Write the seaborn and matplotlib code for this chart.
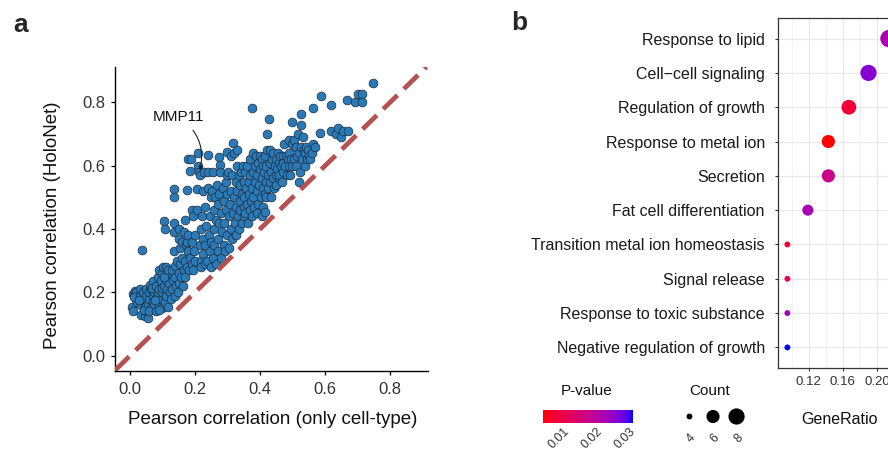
import numpy as np
import pandas as pd
import matplotlib
matplotlib.use("Agg")
import matplotlib.pyplot as plt
import seaborn as sns
from matplotlib.colors import LinearSegmentedColormap, Normalize

# ---- panel a: Pearson correlation per gene ----
only_celltype = [
    0.005, 0.008, 0.010, 0.015, 0.020, 0.020, 0.022, 0.012,
    0.030, 0.030, 0.035, 0.035, 0.036, 0.040, 0.040, 0.045, 0.045, 0.048, 0.050, 0.050, 0.028, 0.042,
    0.055, 0.055, 0.060, 0.060, 0.062, 0.065, 0.065, 0.070, 0.070, 0.072, 0.075, 0.075, 0.058, 0.068,
    0.080, 0.080, 0.082, 0.085, 0.085, 0.090, 0.090, 0.090, 0.095, 0.095, 0.100, 0.100, 0.100, 0.078, 0.088, 0.098,
    0.102, 0.105, 0.105, 0.108, 0.109, 0.110, 0.110, 0.112, 0.115, 0.118, 0.120, 0.120, 0.122, 0.125, 0.106, 0.116,
    0.128, 0.130, 0.132, 0.135, 0.135, 0.135, 0.135, 0.135, 0.138, 0.140, 0.140, 0.142, 0.145, 0.148, 0.150, 0.150, 0.150,
    0.152, 0.155, 0.155, 0.158, 0.160, 0.160, 0.162, 0.165, 0.165, 0.168, 0.170, 0.170, 0.172, 0.174, 0.175, 0.175,
    0.178, 0.180, 0.180, 0.182, 0.185, 0.185, 0.188, 0.190, 0.190, 0.192, 0.195, 0.195, 0.198, 0.200, 0.200,
    0.205, 0.207, 0.210, 0.210, 0.212, 0.215, 0.215, 0.218, 0.220, 0.220, 0.222, 0.225, 0.225, 0.225,
    0.228, 0.230, 0.230, 0.232, 0.235, 0.238, 0.240, 0.240, 0.240, 0.242, 0.245, 0.245, 0.248, 0.250, 0.250,
    0.252, 0.255, 0.255, 0.258, 0.260, 0.260, 0.262, 0.265, 0.265, 0.268, 0.270, 0.270, 0.272, 0.275, 0.275, 0.275,
    0.277, 0.278, 0.280, 0.280, 0.282, 0.285, 0.288, 0.290, 0.290, 0.292, 0.295, 0.295, 0.298, 0.300, 0.300, 0.300,
    0.302, 0.305, 0.305, 0.308, 0.310, 0.310, 0.312, 0.315, 0.315, 0.318, 0.318, 0.320, 0.320, 0.322, 0.325, 0.325, 0.325,
    0.328, 0.330, 0.330, 0.332, 0.335, 0.335, 0.338, 0.340, 0.340, 0.342, 0.345, 0.345, 0.348, 0.350, 0.350, 0.350,
    0.352, 0.355, 0.355, 0.358, 0.360, 0.360, 0.362, 0.365, 0.365, 0.368, 0.370, 0.370, 0.372, 0.375, 0.375,
    0.377, 0.378, 0.380, 0.380, 0.382, 0.385, 0.385, 0.388, 0.390, 0.390, 0.392, 0.395, 0.395, 0.398, 0.400, 0.400,
    0.402, 0.405, 0.405, 0.408, 0.410, 0.410, 0.412, 0.415, 0.415, 0.418, 0.420, 0.420, 0.422, 0.423, 0.425, 0.425, 0.405, 0.415,
    0.429, 0.430, 0.430, 0.432, 0.435, 0.435, 0.438, 0.440, 0.440, 0.442, 0.445, 0.448, 0.450, 0.450,
    0.452, 0.455, 0.458, 0.460, 0.460, 0.462, 0.465, 0.468, 0.470, 0.470, 0.472, 0.475,
    0.478, 0.480, 0.482, 0.485, 0.488, 0.490, 0.490, 0.492, 0.495, 0.498, 0.500, 0.500,
    0.505, 0.505, 0.510, 0.512, 0.515, 0.518, 0.520, 0.520, 0.522, 0.526, 0.527, 0.525,
    0.530, 0.532, 0.535, 0.538, 0.540, 0.542, 0.545, 0.548, 0.550,
    0.555, 0.560, 0.562, 0.564, 0.570, 0.585, 0.587,
    0.618, 0.620, 0.635, 0.640, 0.648, 0.655, 0.668, 0.672, 0.692, 0.701, 0.713, 0.715, 0.749,
]
holonet = [
    0.155, 0.142, 0.195, 0.205, 0.180, 0.200, 0.170, 0.185,
    0.210, 0.190, 0.160, 0.130, 0.334, 0.200, 0.175, 0.125, 0.155, 0.190, 0.210, 0.140, 0.175, 0.145,
    0.118, 0.165, 0.180, 0.200, 0.225, 0.150, 0.210, 0.190, 0.170, 0.235, 0.160, 0.200, 0.140, 0.215,
    0.140, 0.220, 0.185, 0.250, 0.200, 0.160, 0.270, 0.210, 0.180, 0.235, 0.150, 0.200, 0.260, 0.175, 0.145, 0.215,
    0.280, 0.426, 0.220, 0.170, 0.402, 0.240, 0.190, 0.280, 0.210, 0.155, 0.260, 0.230, 0.200, 0.180, 0.250, 0.270,
    0.270, 0.210, 0.240, 0.528, 0.500, 0.418, 0.390, 0.330, 0.190, 0.250, 0.285, 0.220, 0.300, 0.200, 0.370, 0.260, 0.230,
    0.400, 0.340, 0.290, 0.250, 0.360, 0.310, 0.220, 0.270, 0.390, 0.430, 0.300, 0.250, 0.350, 0.525, 0.280, 0.360,
    0.620, 0.380, 0.330, 0.270, 0.585, 0.310, 0.620, 0.460, 0.360, 0.290, 0.270, 0.440, 0.330, 0.380, 0.300,
    0.460, 0.528, 0.641, 0.600, 0.580, 0.570, 0.350, 0.300, 0.400, 0.280, 0.440, 0.370, 0.320, 0.520,
    0.580, 0.290, 0.470, 0.350, 0.410, 0.300, 0.634, 0.580, 0.530, 0.380, 0.440, 0.330, 0.500, 0.280, 0.360,
    0.520, 0.580, 0.310, 0.460, 0.400, 0.350, 0.500, 0.290, 0.430, 0.540, 0.370, 0.480, 0.330, 0.628, 0.510, 0.420,
    0.602, 0.580, 0.310, 0.450, 0.390, 0.530, 0.350, 0.490, 0.420, 0.330, 0.550, 0.460, 0.380, 0.645, 0.510, 0.570,
    0.580, 0.440, 0.340, 0.480, 0.630, 0.520, 0.400, 0.370, 0.570, 0.673, 0.450, 0.500, 0.640, 0.420, 0.550, 0.380, 0.470,
    0.600, 0.650, 0.520, 0.440, 0.570, 0.400, 0.490, 0.540, 0.460, 0.580, 0.420, 0.510, 0.600, 0.470, 0.550, 0.440,
    0.500, 0.580, 0.450, 0.530, 0.600, 0.480, 0.420, 0.550, 0.510, 0.460, 0.620, 0.570, 0.490, 0.530, 0.440,
    0.781, 0.640, 0.580, 0.500, 0.470, 0.600, 0.550, 0.630, 0.520, 0.450, 0.570, 0.610, 0.480, 0.540, 0.590, 0.630,
    0.500, 0.560, 0.620, 0.600, 0.530, 0.470, 0.580, 0.630, 0.510, 0.550, 0.600, 0.500, 0.650, 0.702, 0.570, 0.530, 0.440, 0.455,
    0.749, 0.610, 0.550, 0.650, 0.580, 0.500, 0.620, 0.560, 0.640, 0.530, 0.600, 0.570, 0.620, 0.540,
    0.590, 0.640, 0.560, 0.610, 0.570, 0.630, 0.600, 0.550, 0.630, 0.580, 0.610, 0.670,
    0.600, 0.630, 0.570, 0.620, 0.680, 0.600, 0.640, 0.570, 0.620, 0.670, 0.738, 0.600,
    0.680, 0.620, 0.600, 0.660, 0.630, 0.700, 0.550, 0.640, 0.580, 0.728, 0.763, 0.660,
    0.620, 0.690, 0.650, 0.600, 0.640, 0.660, 0.620, 0.650, 0.630,
    0.620, 0.640, 0.670, 0.781, 0.660, 0.705, 0.820,
    0.792, 0.710, 0.700, 0.720, 0.690, 0.710, 0.807, 0.710, 0.802, 0.828, 0.828, 0.802, 0.862,
]
mmp11_x, mmp11_y = 0.215, 0.585
axis_ticks_a = [0.0, 0.2, 0.4, 0.6, 0.8]

# ---- panel b: GO enrichment ----
terms = [
    "Response to lipid",
    "Cell\u2212cell signaling",
    "Regulation of growth",
    "Response to metal ion",
    "Secretion",
    "Fat cell differentiation",
    "Transition metal ion homeostasis",
    "Signal release",
    "Response to toxic substance",
    "Negative regulation of growth",
]
gene_ratio = [0.214, 0.190, 0.167, 0.143, 0.143, 0.119, 0.095, 0.095, 0.095, 0.095]
gene_count = [9, 8, 7, 6, 6, 5, 4, 4, 4, 4]
p_value = [0.0220, 0.0260, 0.0080, 0.0039, 0.0174, 0.0228, 0.0075, 0.0105, 0.0235, 0.0309]
ratio_ticks = [0.12, 0.16, 0.20]
ratio_minor = [0.10, 0.14, 0.18, 0.22]
pval_ticks = [0.01, 0.02, 0.03]
count_legend = [4, 6, 8]

sns.set_style("ticks")
plt.rcParams["font.family"] = ["Liberation Sans", "DejaVu Sans"]


# red -> blue gradient interpolated in Lab, as ggplot does
def srgb_to_lab(rgb):
    c = np.asarray(rgb, float)
    lin = np.where(c <= 0.04045, c / 12.92, ((c + 0.055) / 1.055) ** 2.4)
    M = np.array([[0.4124, 0.3576, 0.1805], [0.2126, 0.7152, 0.0722], [0.0193, 0.1192, 0.9505]])
    xyz = M @ lin / np.array([0.95047, 1.0, 1.08883])
    d = 6 / 29
    f = np.where(xyz > d ** 3, np.cbrt(xyz), xyz / (3 * d * d) + 4 / 29)
    return np.array([116 * f[1] - 16, 500 * (f[0] - f[1]), 200 * (f[1] - f[2])])


def lab_to_srgb(lab):
    L, a, b = lab
    fy = (L + 16) / 116
    f = np.array([fy + a / 500, fy, fy - b / 200])
    d = 6 / 29
    xyz = np.where(f > d, f ** 3, 3 * d * d * (f - 4 / 29)) * np.array([0.95047, 1.0, 1.08883])
    M = np.array([[0.4124, 0.3576, 0.1805], [0.2126, 0.7152, 0.0722], [0.0193, 0.1192, 0.9505]])
    lin = np.clip(np.linalg.solve(M, xyz), 0, 1)
    c = np.where(lin <= 0.0031308, lin * 12.92, 1.055 * lin ** (1 / 2.4) - 0.055)
    return np.clip(c, 0, 1)


lab_lo, lab_hi = srgb_to_lab([1, 0, 0]), srgb_to_lab([0, 0, 1])
cmap = LinearSegmentedColormap.from_list(
    "red_blue_lab", [lab_to_srgb(lab_lo + t * (lab_hi - lab_lo)) for t in np.linspace(0, 1, 64)])
norm = Normalize(min(p_value), max(p_value))


def dot_size(c):
    # ggplot-like area scale (range 1..6) turned into pixels, then points^2
    d_px = 3.6 + 2.3 * (1 + 5 * np.sqrt((c - 4) / 5))
    return (d_px * 0.72) ** 2


W, H = 888, 451
fig = plt.figure(figsize=(W / 100, H / 100), dpi=100)


def px_axes(x0, y0, x1, y1):
    return fig.add_axes([x0 / W, 1 - y1 / H, (x1 - x0) / W, (y1 - y0) / H])


# ================= panel a =================
ax = px_axes(115, 67, 428, 371)
df_a = pd.DataFrame({"only": only_celltype, "holo": holonet})
sns.scatterplot(data=df_a, x="only", y="holo", ax=ax, color="#2a7ab8",
                edgecolor="#1b2b3b", linewidth=0.5, s=40, zorder=2, legend=False)
ax.axline((0, 0), slope=1, color="#b5524f", lw=3.4, ls=(0, (4.2, 1.9)), zorder=3)
ax.set_xlim(-0.046, 0.917)
ax.set_ylim(-0.048, 0.912)
ax.set_xticks(axis_ticks_a)
ax.set_yticks(axis_ticks_a)
ax.set_xticklabels([f"{v:.1f}" for v in axis_ticks_a])
ax.set_yticklabels([f"{v:.1f}" for v in axis_ticks_a])
for s in ["top", "right"]:
    ax.spines[s].set_visible(False)
for s in ["left", "bottom"]:
    ax.spines[s].set_linewidth(1.0)
    ax.spines[s].set_color("black")
ax.tick_params(axis="both", length=3.2, width=0.9, color="black", labelsize=12, labelcolor="#333333")
ax.tick_params(axis="x", pad=5)
ax.tick_params(axis="y", pad=3.5)
ax.set_xlabel("Pearson correlation (only cell-type)", fontsize=13.5, color="#111111", va="center")
ax.xaxis.set_label_coords(0.503, -0.158)
ax.set_ylabel("Pearson correlation (HoloNet)", fontsize=13.5, color="#111111", va="center")
ax.yaxis.set_label_coords(-0.201, 0.48)
ax.annotate("MMP11", xy=(mmp11_x, mmp11_y), xytext=(0.148, 0.755), fontsize=11,
            ha="center", va="center", color="#111111",
            arrowprops=dict(arrowstyle="-|>", connectionstyle="arc3,rad=-0.35",
                            color="#222222", lw=0.8, mutation_scale=6, shrinkA=3, shrinkB=0))

fig.text(21 / W, 1 - 25 / H, "a", fontsize=19, fontweight="bold", ha="center", va="center")
fig.text(519 / W, 1 - 23 / H, "b", fontsize=19, fontweight="bold", ha="center", va="center")

# ================= panel b =================
bx = px_axes(778, 18, 1000, 368)
df_b = pd.DataFrame({"term": terms, "ratio": gene_ratio, "count": gene_count, "p": p_value})
size_map = {c: dot_size(c) for c in sorted(set(gene_count) | set(count_legend))}
bx.set_axisbelow(True)
sns.scatterplot(data=df_b, x="ratio", y="term", size="count", sizes=size_map,
                hue="p", palette=cmap, hue_norm=norm, linewidth=0, ax=bx, legend=False, zorder=3)
bx.set_ylim(len(terms) - 0.4, -0.6)
bx.set_xlim(0.084, 0.084 + 222 / 853.75)
bx.set_xticks(ratio_ticks)
bx.set_xticklabels([f"{v:.2f}" for v in ratio_ticks])
bx.set_xticks(ratio_minor, minor=True)
bx.grid(True, which="major", color="#e8e8e8", lw=0.9)
bx.grid(True, which="minor", axis="x", color="#f0f0f0", lw=0.6)
for s in bx.spines.values():
    s.set_color("#333333")
    s.set_linewidth(0.9)
bx.tick_params(axis="both", which="major", length=2.5, width=0.8, color="#333333")
bx.tick_params(axis="x", which="minor", length=0)
bx.tick_params(axis="y", labelsize=11.5, labelcolor="#1a1a1a", pad=7)
bx.tick_params(axis="x", labelsize=9.5, labelcolor="#333333", pad=3.5)
bx.set_xlabel("")
bx.set_ylabel("")
fig.text(839 / W, 1 - 419 / H, "GeneRatio", fontsize=11.5, ha="center", va="center", color="#111111")

# P-value colour bar
cax = px_axes(543, 409.5, 632.5, 423)
sm = plt.cm.ScalarMappable(norm=norm, cmap=cmap)
cb = fig.colorbar(sm, cax=cax, orientation="horizontal")
cb.outline.set_visible(False)
cb.set_ticks(pval_ticks)
cb.ax.tick_params(axis="x", direction="in", length=3.0, width=0.7, color="white",
                  labelsize=9, labelcolor="#333333", pad=2, top=True)
for lab in cb.ax.get_xticklabels():
    lab.set_rotation(45)
    lab.set_ha("right")
    lab.set_rotation_mode("anchor")
fig.text(587 / W, 1 - 391 / H, "P-value", fontsize=11, ha="center", va="center", color="#111111")

# Count size legend
lax = px_axes(677.7, 405, 748.3, 428)
df_leg = pd.DataFrame({"k": [str(c) for c in count_legend], "count": count_legend, "y": 0})
sns.scatterplot(data=df_leg, x="k", y="y", size="count", sizes=size_map, color="black",
                linewidth=0, ax=lax, legend=False)
lax.set_xlim(-0.5, len(count_legend) - 0.5)
lax.set_ylim(-1, 1)
lax.set_yticks([])
lax.set_xlabel("")
lax.set_ylabel("")
for s in lax.spines.values():
    s.set_visible(False)
lax.tick_params(axis="x", length=0, labelsize=9, labelcolor="#333333", pad=3)
for lab in lax.get_xticklabels():
    lab.set_rotation(45)
    lab.set_ha("right")
    lab.set_rotation_mode("anchor")
lax.patch.set_alpha(0)
fig.text(710 / W, 1 - 391 / H, "Count", fontsize=11, ha="center", va="center", color="#111111")

fig.savefig("out.png", dpi=100)
